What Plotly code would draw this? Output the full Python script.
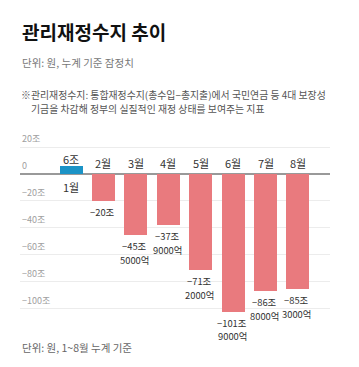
import plotly.graph_objects as go

months = ["1월", "2월", "3월", "4월", "5월", "6월", "7월", "8월"]
values = [6.0, -20.0, -45.5, -37.9, -71.2, -101.9, -86.8, -85.3]
value_labels = ["6조", "−20조", "−45조<br>5000억", "−37조<br>9000억", "−71조<br>2000억",
                "−101조<br>9000억", "−86조<br>8000억", "−85조<br>3000억"]
y_ticks = [20, 0, -20, -40, -60, -80, -100]
y_tick_labels = ["20조", "0", "−20조", "−40조", "−60조", "−80조", "−100조"]

FONT = "Noto Sans CJK KR"
xs = list(range(len(months)))
colors = ["#1b93c6" if v > 0 else "#e97a7e" for v in values]

fig = go.Figure()
fig.add_trace(go.Bar(x=xs, y=values, width=0.71, marker=dict(color=colors, line=dict(width=0)),
                     hoverinfo="skip"))

VAL_SIZE = 9.4
LINE_H = 13.6
ann = []
for x, v, m, lab in zip(xs, values, months, value_labels):
    if v > 0:
        ann.append(dict(x=x, y=0, text=m, xref="x", yref="y", showarrow=False, borderpad=0,
                        yanchor="top", yshift=-4, font=dict(size=11, color="#333", family=FONT)))
        ann.append(dict(x=x, y=v, text=lab, xref="x", yref="y", showarrow=False, borderpad=0,
                        yanchor="bottom", yshift=-2, font=dict(size=11, color="#333", family=FONT)))
    else:
        ann.append(dict(x=x, y=0, text=m, xref="x", yref="y", showarrow=False, borderpad=0,
                        yanchor="bottom", yshift=2, font=dict(size=11, color="#333", family=FONT)))
        for i, line in enumerate(lab.split("<br>")):
            ann.append(dict(x=x, y=v, text=line, xref="x", yref="y", showarrow=False, borderpad=0,
                            yanchor="top", yshift=-3 - i * LINE_H, xshift=-1,
                            font=dict(size=VAL_SIZE, color="#333", family=FONT)))

for t, tl in zip(y_ticks, y_tick_labels):
    ann.append(dict(x=0, y=t, text=tl, xref="paper", yref="y", showarrow=False, borderpad=0,
                    xanchor="left", yanchor="bottom", yshift=1, xshift=1,
                    font=dict(size=9, color="#a0a0a0", family=FONT)))

W, H = 359, 367
L, R, T, B = 20, 29, 140, 37
plot_w = W - L - R
plot_h = H - T - B


def px(xp, yp, text, size, color, weight=False):
    t = f"<b>{text}</b>" if weight else text
    return dict(x=(xp - L) / plot_w, y=(H - B - yp) / plot_h, xref="paper", yref="paper",
                text=t, showarrow=False, xanchor="left", yanchor="middle", align="left",
                borderpad=0, font=dict(size=size, color=color, family=FONT))


header = [
    px(21, 31, "관리재정수지 추이", 19, "#111", weight=True),
    px(21, 62, "단위: 원, 누계 기준 잠정치", 10.5, "#777"),
    px(20, 94.5, "※관리재정수지: 통합재정수지(총수입−총지출)에서 국민연금 등 4대 보장성", 9.9, "#555"),
    px(30, 108.5, "기금을 차감해 정부의 실질적인 재정 상태를 보여주는 지표", 9.9, "#555"),
    px(21, 347, "단위: 원, 1~8월 누계 기준", 10.5, "#666"),
]

fig.update_layout(
    width=W, height=H, margin=dict(l=L, r=R, t=T, b=B),
    paper_bgcolor="white", plot_bgcolor="white", showlegend=False,
    bargap=0,
    xaxis=dict(range=[-1.574, 7.99], showgrid=False, showticklabels=False, zeroline=False,
               fixedrange=True),
    yaxis=dict(range=[-115.6, 25.2], tickvals=[20, -20, -40, -60, -80, -100], showticklabels=False,
               showgrid=True, gridcolor="#ececec", gridwidth=1, zeroline=True, zerolinecolor="#999",
               zerolinewidth=1.5, fixedrange=True),
    annotations=ann + header,
)

fig.write_html("out.html", config={"displayModeBar": False},
               post_script="document.body.style.margin='0';document.body.style.padding='0';")
